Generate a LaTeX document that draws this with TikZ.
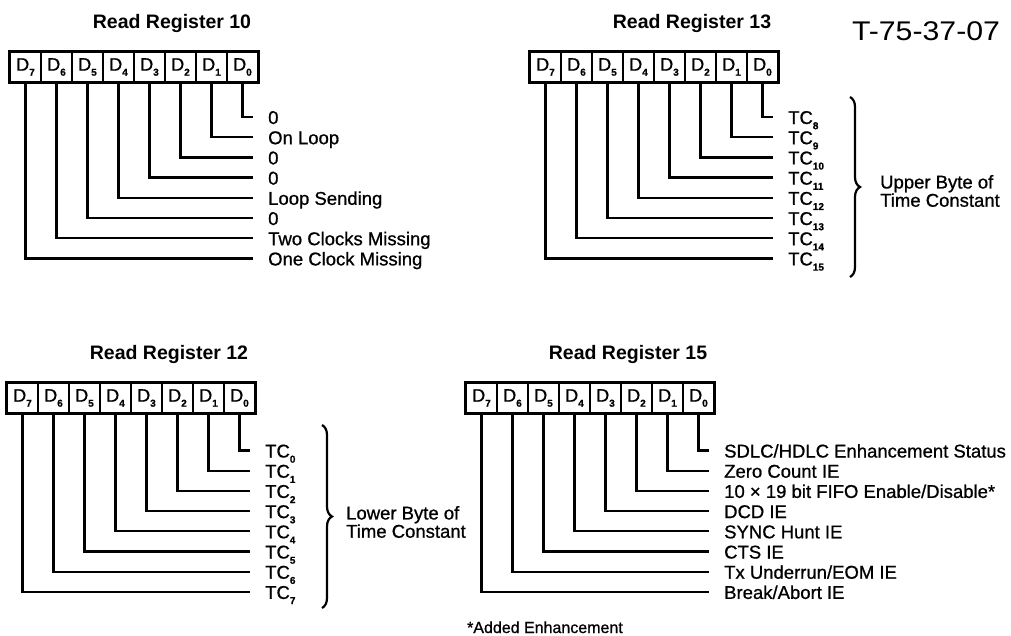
\documentclass[tikz,border=0pt]{standalone}
\usepackage{fontspec}
\setmainfont{Liberation Sans}
\usetikzlibrary{decorations.pathreplacing}
\newcommand\sbs[1]{\raisebox{-0.28em}{\fontsize{10}{10}\selectfont\bfseries #1}}
\tikzset{
  rtitle/.style={font=\fontsize{19.5}{20}\selectfont\bfseries, inner sep=0pt},
  cell/.style={draw, line width=1.5pt, minimum width=31pt, minimum height=30pt, inner sep=0pt, font=\fontsize{18}{18}\selectfont\addfontfeatures{FakeBold=0.8}},
  regbox/.style={line width=2pt},
  conn/.style={line width=2.3pt},
  lbl/.style={anchor=base west, inner sep=0pt, font=\fontsize{18.5}{18.5}\selectfont\addfontfeatures{FakeBold=0.8}},
  sidetxt/.style={anchor=west, align=left, inner sep=0pt, font=\fontsize{18.5}{16.5}\selectfont\addfontfeatures{FakeBold=0.8}},
  bracket/.style={decorate, decoration={brace, amplitude=10pt}, line width=2.2pt},
}
\newcommand\regdiagram[6]{%
\begin{scope}[shift={(#2,#3)}]
\node[rtitle] (#1t) at (162,-29) {#4};
\foreach \b in {0,...,7} \node[cell] (#1c\b) at ({15.5+31*(7-\b)},15) {D\sbs{\b}};
\draw[regbox] (#1c7.north west) rectangle (#1c0.south east);
\foreach \b/\txt in {#6} {
  \coordinate (#1e\b) at (243,{#5+20.2*\b});
  \draw[conn] (#1c\b.south) |- (#1e\b);
  \node[lbl] (#1l\b) at (258,{#5+20.2*\b+7}) {\txt};
}
\end{scope}}
\begin{document}
\begin{tikzpicture}[x=1pt,y=-1pt]
\fill[white] (0,0) rectangle (1011,635);
\useasboundingbox (0,0) rectangle (1011,635);

\regdiagram{ra}{10}{52}{Read Register 10}{65}{0/0, 1/On Loop, 2/0, 3/0, 4/Loop Sending, 5/0, 6/Two Clocks Missing, 7/One Clock Missing}

\regdiagram{rb}{530}{52}{Read Register 13}{65}{0/TC\sbs{8}, 1/TC\sbs{9}, 2/TC\sbs{10}, 3/TC\sbs{11}, 4/TC\sbs{12}, 5/TC\sbs{13}, 6/TC\sbs{14}, 7/TC\sbs{15}}

\regdiagram{rc}{7}{383}{Read Register 12}{67.5}{0/TC\sbs{0}, 1/TC\sbs{1}, 2/TC\sbs{2}, 3/TC\sbs{3}, 4/TC\sbs{4}, 5/TC\sbs{5}, 6/TC\sbs{6}, 7/TC\sbs{7}}

\regdiagram{rd}{466}{383}{Read Register 15}{67.5}{0/{SDLC/HDLC Enhancement Status}, 1/Zero Count IE, 2/{10 × 19 bit FIFO Enable/Disable*}, 3/DCD IE, 4/SYNC Hunt IE, 5/CTS IE, 6/{Tx Underrun/EOM IE}, 7/{Break/Abort IE}}

% braces
\coordinate (bt1) at (850,97);
\coordinate (bb1) at (850,277);
\draw[bracket] (bt1) -- (bb1);
\node[sidetxt] (upper) at (880,191) {Upper Byte of\\Time Constant};

\coordinate (bt2) at (322,425);
\coordinate (bb2) at (322,608);
\draw[bracket] (bt2) -- (bb2);
\node[sidetxt] (lower) at (346,522) {Lower Byte of\\Time Constant};

% document number
\node[inner sep=0pt, font=\fontsize{27}{27}\selectfont] (docno) at (926,31) {\scalebox{1.12}[1]{T-75-37-07}};

% footnote
\node[anchor=base east, inner sep=0pt, font=\fontsize{16}{16}\selectfont\addfontfeatures{FakeBold=0.8}] (foot) at (623,633) {*Added Enhancement};
\end{tikzpicture}
\end{document}
